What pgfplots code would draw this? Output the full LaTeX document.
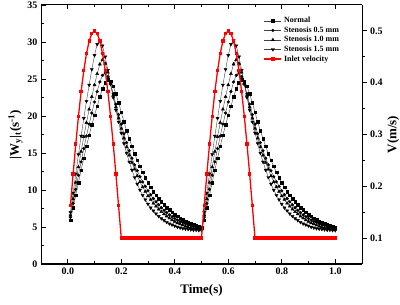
\documentclass[border=0pt]{standalone}
\usepackage{fontspec}
\setmainfont{Liberation Serif}
\usepackage{pgfplots}
\usepackage{pgfplotstable}
\pgfplotsset{compat=1.18}
\pgfplotstableread{
t n s05 s10 s15 v
0.01 5.9 6.3 6.6 7.0 0.1626
0.02 7.6 8.2 8.8 9.6 0.2236
0.03 9.3 10.1 11.0 12.2 0.2816
0.04 11.0 12.0 13.1 14.8 0.3351
0.05 12.7 13.8 15.2 17.3 0.3828
0.06 14.3 15.6 17.2 19.7 0.4236
0.07 15.9 17.3 19.1 22.0 0.4564
0.08 17.4 18.9 20.9 24.2 0.4804
0.09 18.8 20.4 22.6 26.3 0.4951
0.10 20.1 21.9 24.2 28.2 0.5
0.11 21.3 23.3 25.7 29.7 0.4951
0.12 22.6 24.6 27.0 30.2 0.4804
0.13 23.7 25.5 27.6 29.5 0.4564
0.14 24.5 25.8 27.1 28.0 0.4236
0.15 24.9 25.3 25.9 26.2 0.3828
0.16 24.7 24.3 24.4 24.3 0.3351
0.17 24.0 23.0 22.8 22.5 0.2816
0.18 23.0 21.6 21.2 20.8 0.2236
0.19 21.8 20.2 19.7 19.2 0.1626
0.20 20.5 18.9 18.3 17.7 0.1
0.21 19.2 17.6 17.0 16.3 0.1
0.22 18.0 16.4 15.8 15.0 0.1
0.23 16.9 15.3 14.7 13.8 0.1
0.24 15.9 14.3 13.7 12.7 0.1
0.25 14.9 13.4 12.8 11.7 0.1
0.26 14.0 12.6 11.9 10.8 0.1
0.27 13.2 11.8 11.1 10.0 0.1
0.28 12.4 11.1 10.4 9.3 0.1
0.29 11.7 10.5 9.8 8.7 0.1
0.30 11.0 9.9 9.2 8.1 0.1
0.31 10.4 9.35 8.7 7.6 0.1
0.32 9.8 8.85 8.2 7.2 0.1
0.33 9.3 8.4 7.8 6.8 0.1
0.34 8.8 8.0 7.4 6.45 0.1
0.35 8.4 7.6 7.05 6.15 0.1
0.36 8.0 7.25 6.75 5.9 0.1
0.37 7.6 6.95 6.45 5.65 0.1
0.38 7.3 6.65 6.2 5.45 0.1
0.39 7.0 6.4 5.95 5.3 0.1
0.40 6.7 6.15 5.75 5.15 0.1
0.41 6.45 5.95 5.55 5.0 0.1
0.42 6.2 5.75 5.4 4.9 0.1
0.43 6.0 5.6 5.25 4.8 0.1
0.44 5.8 5.45 5.1 4.75 0.1
0.45 5.6 5.3 5.0 4.7 0.1
0.46 5.45 5.2 4.9 4.65 0.1
0.47 5.3 5.1 4.85 4.6 0.1
0.48 5.15 5.0 4.8 4.6 0.1
0.49 5.0 4.9 4.75 4.55 0.1
0.50 4.9 4.85 4.7 4.55 0.1
0.51 5.9 6.3 6.6 7.0 0.1626
0.52 7.6 8.2 8.8 9.6 0.2236
0.53 9.3 10.1 11.0 12.2 0.2816
0.54 11.0 12.0 13.1 14.8 0.3351
0.55 12.7 13.8 15.2 17.3 0.3828
0.56 14.3 15.6 17.2 19.7 0.4236
0.57 15.9 17.3 19.1 22.0 0.4564
0.58 17.4 18.9 20.9 24.2 0.4804
0.59 18.8 20.4 22.6 26.3 0.4951
0.60 20.1 21.9 24.2 28.2 0.5
0.61 21.3 23.3 25.7 29.7 0.4951
0.62 22.6 24.6 27.0 30.2 0.4804
0.63 23.7 25.5 27.6 29.5 0.4564
0.64 24.5 25.8 27.1 28.0 0.4236
0.65 24.9 25.3 25.9 26.2 0.3828
0.66 24.7 24.3 24.4 24.3 0.3351
0.67 24.0 23.0 22.8 22.5 0.2816
0.68 23.0 21.6 21.2 20.8 0.2236
0.69 21.8 20.2 19.7 19.2 0.1626
0.70 20.5 18.9 18.3 17.7 0.1
0.71 19.2 17.6 17.0 16.3 0.1
0.72 18.0 16.4 15.8 15.0 0.1
0.73 16.9 15.3 14.7 13.8 0.1
0.74 15.9 14.3 13.7 12.7 0.1
0.75 14.9 13.4 12.8 11.7 0.1
0.76 14.0 12.6 11.9 10.8 0.1
0.77 13.2 11.8 11.1 10.0 0.1
0.78 12.4 11.1 10.4 9.3 0.1
0.79 11.7 10.5 9.8 8.7 0.1
0.80 11.0 9.9 9.2 8.1 0.1
0.81 10.4 9.35 8.7 7.6 0.1
0.82 9.8 8.85 8.2 7.2 0.1
0.83 9.3 8.4 7.8 6.8 0.1
0.84 8.8 8.0 7.4 6.45 0.1
0.85 8.4 7.6 7.05 6.15 0.1
0.86 8.0 7.25 6.75 5.9 0.1
0.87 7.6 6.95 6.45 5.65 0.1
0.88 7.3 6.65 6.2 5.45 0.1
0.89 7.0 6.4 5.95 5.3 0.1
0.90 6.7 6.15 5.75 5.15 0.1
0.91 6.45 5.95 5.55 5.0 0.1
0.92 6.2 5.75 5.4 4.9 0.1
0.93 6.0 5.6 5.25 4.8 0.1
0.94 5.8 5.45 5.1 4.75 0.1
0.95 5.6 5.3 5.0 4.7 0.1
0.96 5.45 5.2 4.9 4.65 0.1
0.97 5.3 5.1 4.85 4.6 0.1
0.98 5.15 5.0 4.8 4.6 0.1
0.99 5.0 4.9 4.75 4.55 0.1
1.00 4.9 4.85 4.7 4.55 0.1
}\datatab
\begin{document}
\begin{tikzpicture}
\pgfplotsset{
  every axis/.append style={
    scale only axis, width=321pt, height=259pt,
    xmin=-0.1, xmax=1.1,
    axis line style={line width=1pt},
    every tick/.style={black, line width=0.8pt},
    major tick length=4.5pt, minor tick length=2.5pt,
    tick label style={font=\fontsize{10}{12}\selectfont\bfseries},
    label style={font=\fontsize{13}{15}\selectfont\bfseries},
    /pgf/number format/assume math mode=true,
  }
}
\begin{axis}[name=ax,
  ymin=0, ymax=35,
  axis y line*=left,
  tick align=inside,
  xtick={0,0.2,0.4,0.6,0.8,1.0},
  minor x tick num=1,
  ytick={0,5,10,15,20,25,30,35},
  minor y tick num=1,
  xtick pos=both,
  xticklabel style={/pgf/number format/.cd, fixed, fixed zerofill, precision=1},
  xlabel={Time(s)},
  ylabel={|W\textsubscript{y}|\textsubscript{t}(s\textsuperscript{-1})},
  xlabel style={yshift=-3pt},
  ylabel style={yshift=-2pt},
  legend style={draw=none, fill=none, at={(rel axis cs:0.69,0.965)}, anchor=north west,
    font=\fontsize{8}{9}\selectfont\bfseries, row sep=-1.5pt, inner sep=1pt},
  legend cell align=left,
]
\addplot[black!75, line width=0.4pt, mark=square*, mark size=1.3pt, mark options={black}] table[x=t, y=n] {\datatab};
\addlegendentry{Normal}
\addplot[black!75, line width=0.4pt, mark=*, mark size=1.4pt, mark options={black}] table[x=t, y=s05] {\datatab};
\addlegendentry{Stenosis 0.5 mm}
\addplot[black!75, line width=0.4pt, mark=triangle*, mark size=1.8pt, mark options={black}] table[x=t, y=s10] {\datatab};
\addlegendentry{Stenosis 1.0 mm}
\addplot[black!75, line width=0.4pt, mark=triangle*, mark size=1.8pt, mark options={black, rotate=180}] table[x=t, y=s15] {\datatab};
\addlegendentry{Stenosis 1.5 mm}
\addlegendimage{red, line width=1.3pt, mark=square*, mark size=1pt}
\addlegendentry{Inlet velocity}
\end{axis}
\begin{axis}[
  ymin=0.05, ymax=0.55,
  axis y line*=right,
  axis x line=none,
  tick align=outside,
  ytick={0.1,0.2,0.3,0.4,0.5},
  minor y tick num=1,
  yticklabel style={/pgf/number format/.cd, fixed, fixed zerofill, precision=1},
  ylabel={V(m/s)},
  ylabel style={yshift=2pt},
]
\addplot[red, line width=1.3pt, mark=square*, mark size=1pt] table[x=t, y=v] {\datatab};
\end{axis}
\pgfresetboundingbox
\path ([shift={(-41pt,-40pt)}]ax.south west) rectangle ([shift={(38pt,5pt)}]ax.north east);
\end{tikzpicture}
\end{document}
